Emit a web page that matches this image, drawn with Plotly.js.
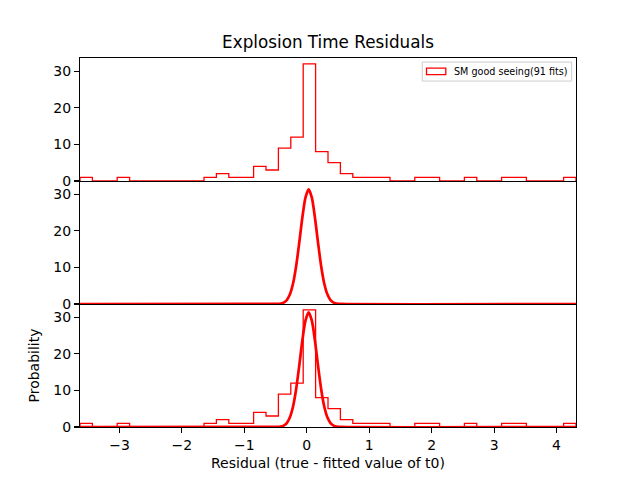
<!DOCTYPE html>
<html>
<head>
<meta charset="utf-8">
<script src="https://cdn.plot.ly/plotly-3.0.1.min.js"></script>
<style>
	html, body { margin: 0; padding: 0; background: #ffffff; }
	#plot { width: 640px; height: 480px; }
</style>
</head>
<body>
<div id="plot"></div>
<script>
	// Histogram of explosion time residuals (40 bins over the data range)
	const binStart = -3.632;
	const binWidth = 0.1986;
	const counts = [1, 0, 0, 1, 0, 0, 0, 0, 0, 0,
		1, 2, 1, 1, 4, 3, 9, 12, 32, 8,
		5, 2, 1, 1, 1, 0, 0, 1, 1, 0,
		0, 1, 0, 0, 1, 1, 0, 0, 0, 1];

	// Fitted gaussian curve
	const curveX = [-3.632, -0.52, -0.47, -0.42, -0.37, -0.32, -0.27, -0.22, -0.17, -0.12, -0.07, -0.02,
		0.03, 0.08, 0.13, 0.18, 0.23, 0.28, 0.33, 0.38, 0.43, 0.48, 0.53, 4.313];
	const curveY = [0, 0.01, 0.03, 0.12, 0.39, 1.08, 2.64, 5.6, 10.4, 16.8, 23.7, 29.1,
		31.3, 29.1, 23.7, 16.8, 10.4, 5.6, 2.64, 1.08, 0.39, 0.12, 0.03, 0];

	const yTicks = [0, 10, 20, 30];
	const legendLabel = 'SM good seeing(91 fits)';

	const red = '#ff0000';
	const font = 'DejaVu Sans, sans-serif';

	// Build the step outline (matplotlib histtype='step')
	function stepOutline() {
		const xs = [binStart];
		const ys = [0];
		counts.forEach((c, i) => {
			xs.push(binStart + i * binWidth);
			ys.push(c);
		});
		const end = binStart + counts.length * binWidth;
		xs.push(end, end);
		ys.push(counts[counts.length - 1], 0);
		return { x: xs, y: ys };
	}

	const hist = stepOutline();
	const xRange = [binStart, binStart + counts.length * binWidth];

	const histTrace = (xa, ya) => ({
		x: hist.x, y: hist.y, xaxis: xa, yaxis: ya,
		mode: 'lines', line: { color: red, width: 1.3, shape: 'hv' },
		hoverinfo: 'skip', showlegend: false
	});
	const curveTrace = (xa, ya) => ({
		x: curveX, y: curveY, xaxis: xa, yaxis: ya,
		mode: 'lines', line: { color: red, width: 2.7, shape: 'spline', smoothing: 0.8 },
		hoverinfo: 'skip', showlegend: false
	});

	const data = [
		histTrace('x', 'y'),
		curveTrace('x2', 'y2'),
		histTrace('x3', 'y3'),
		curveTrace('x3', 'y3')
	];

	// Only the top panel mirrors its x line; the lower panels share the boundary above them.
	function xAxis(anchor, labels, mirror) {
		return {
			anchor: anchor, range: xRange, domain: [0, 1],
			showline: true, mirror: mirror, linecolor: '#000', linewidth: 1.1,
			showgrid: false, zeroline: false,
			ticks: labels ? 'outside' : '', ticklen: 5, tickwidth: 1.1, tickcolor: '#000',
			showticklabels: labels, dtick: 1, tick0: 0,
			tickfont: { family: font, size: 14, color: '#000' }
		};
	}
	function yAxis(anchor, domain) {
		return {
			anchor: anchor, range: [0, 33.6], domain: domain,
			showline: true, mirror: true, linecolor: '#000', linewidth: 1.1,
			showgrid: false, zeroline: false,
			ticks: 'outside', ticklen: 5, tickwidth: 1.1, tickcolor: '#000',
			tickmode: 'array', tickvals: yTicks,
			tickfont: { family: font, size: 14, color: '#000' }
		};
	}

	const yAxis3 = yAxis('x3', [0, 1 / 3]);
	yAxis3.title = { text: 'Probability', font: { family: font, size: 14, color: '#000' }, standoff: 10 };

	const xAxis3 = xAxis('y3', true, false);
	xAxis3.title = { text: 'Residual (true - fitted value of t0)', font: { family: font, size: 14, color: '#000' }, standoff: 6 };

	const layout = {
		width: 640, height: 480,
		paper_bgcolor: '#fff', plot_bgcolor: '#fff',
		margin: { l: 80, r: 64, t: 57.6, b: 52.8 },
		showlegend: false,
		title: {
			text: 'Explosion Time Residuals',
			font: { family: font, size: 16.8, color: '#000' },
			xref: 'paper', x: 0.5, xanchor: 'center',
			yref: 'container', y: 1 - 42 / 480, yanchor: 'middle'
		},
		xaxis: xAxis('y', false, true),
		yaxis: yAxis('x', [2 / 3, 1]),
		xaxis2: xAxis('y2', false, false),
		yaxis2: yAxis('x2', [1 / 3, 2 / 3]),
		xaxis3: xAxis3,
		yaxis3: yAxis3,
		// Hand-drawn legend box to mimic the matplotlib patch legend
		shapes: [
			{ type: 'rect', xref: 'paper', yref: 'paper', x0: 0.690, x1: 0.9913, y0: 0.9375, y1: 0.9889,
				line: { color: '#cccccc', width: 1 }, fillcolor: 'rgba(255,255,255,0.8)' },
			{ type: 'rect', xref: 'paper', yref: 'paper', x0: 0.6986, x1: 0.7375, y0: 0.9548, y1: 0.9727,
				line: { color: red, width: 1.3 }, fillcolor: 'rgba(0,0,0,0)' }
		],
		annotations: [
			{ text: legendLabel, xref: 'paper', yref: 'paper', x: 0.7526, y: 0.9642,
				xanchor: 'left', yanchor: 'middle', showarrow: false, borderpad: 0,
				font: { family: font, size: 9.6, color: '#000' } }
		]
	};

	Plotly.newPlot('plot', data, layout, { staticPlot: true, displayModeBar: false });
</script>
</body>
</html>
